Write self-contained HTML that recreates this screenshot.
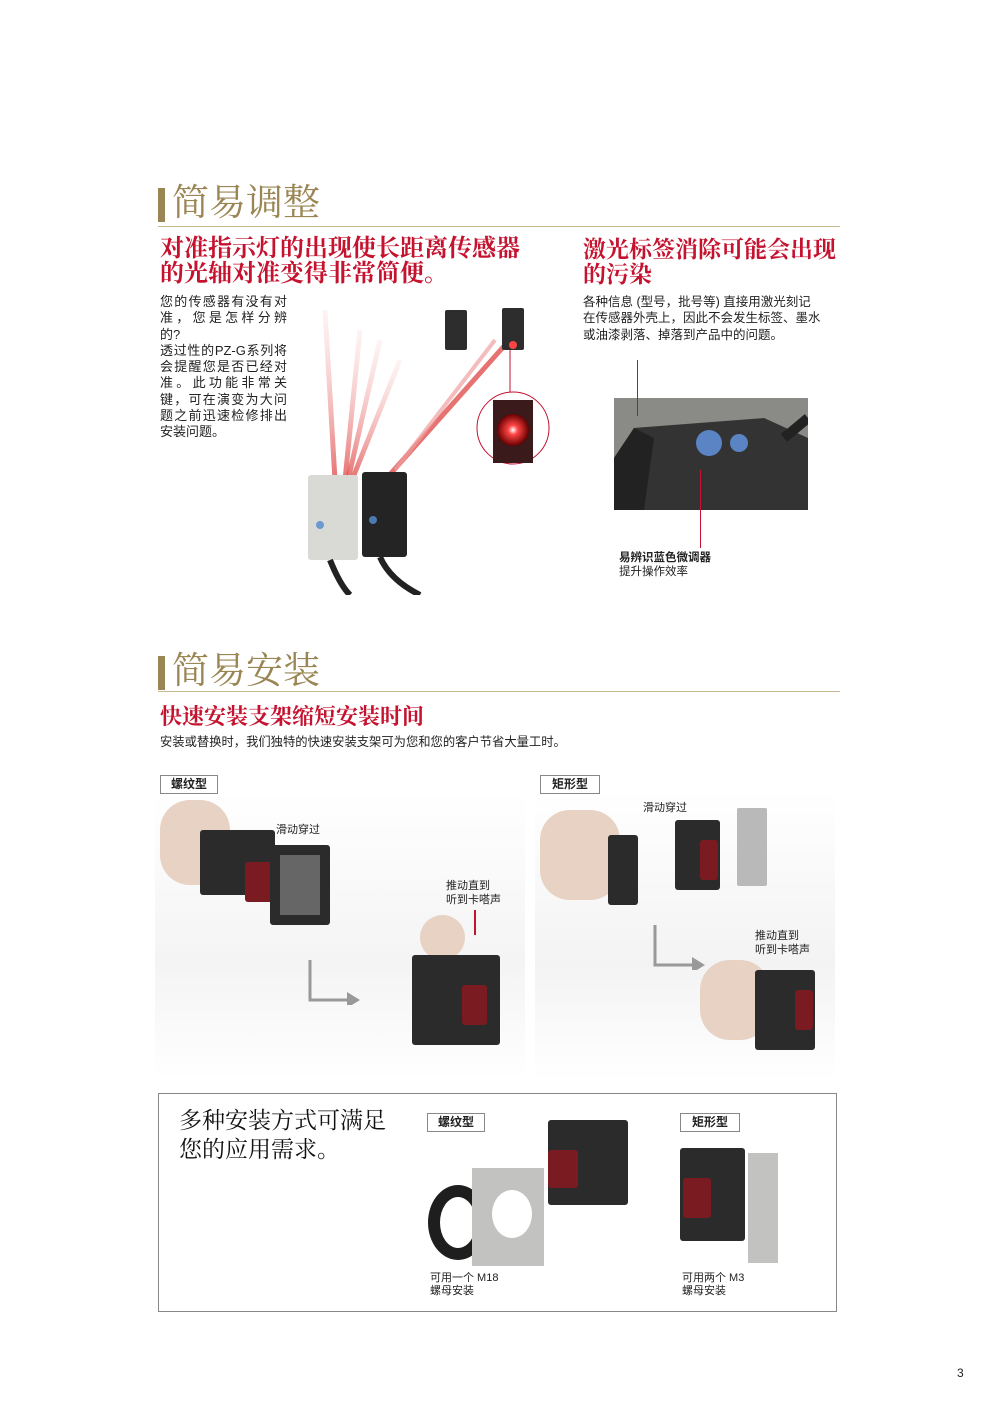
<!DOCTYPE html>
<html><head><meta charset="utf-8"><style>
*{margin:0;padding:0;box-sizing:border-box}
body{width:990px;height:1401px;background:#fff;position:relative;overflow:hidden;font-family:"Liberation Sans","Noto Sans CJK SC",sans-serif;color:#222}
.a{position:absolute}
.h1{font-family:"Liberation Serif","Noto Serif CJK SC",serif;font-size:37px;color:#9a8654;line-height:42px}
.bar{background:#9a8654;width:7px}
.rule{height:1px;background:#c7b98f}
.red{font-family:"Liberation Serif","Noto Serif CJK SC",serif;color:#c4122f;font-size:24px;line-height:25px;font-weight:bold;white-space:nowrap}
.t{font-size:12px;line-height:16.3px;color:#222}
.j div{text-align:justify;text-align-last:justify}
.j div.l{text-align-last:left}
.lbl{border:1px solid #888;font-size:12px;font-weight:bold;padding:1px 0;text-align:center;background:#fff;line-height:15px}
.dark{background:#2b2b2b;border-radius:3px}
.lens{background:#7a1b22;border-radius:3px}
.skin{background:#e8d2c4;border-radius:30px}
</style></head><body>

<div class="a bar" style="left:158px;top:188px;height:34px"></div>
<div class="a h1" style="left:172px;top:183px">简易调整</div>
<div class="a rule" style="left:158px;top:226px;width:682px"></div>

<div class="a red" style="left:160px;top:237px">对准指示灯的出现使长距离传感器<br>的光轴对准变得非常简便。</div>
<div class="a red" style="left:583px;top:237px;font-size:23px">激光标签消除可能会出现<br>的污染</div>

<div class="a t j" style="left:160px;top:294px;width:127px;font-size:13px"><div>您的传感器有没有对</div><div>准，您是怎样分辨</div><div class="l">的?</div><div>透过性的PZ-G系列将</div><div>会提醒您是否已经对</div><div>准。此功能非常关</div><div>键，可在演变为大问</div><div>题之前迅速检修排出</div><div class="l">安装问题。</div></div>
<div class="a t" style="left:583px;top:294px;width:260px;font-size:12.5px">各种信息 (型号，批号等) 直接用激光刻记<br>在传感器外壳上，因此不会发生标签、墨水<br>或油漆剥落、掉落到产品中的问题。</div>

<svg class="a" style="left:290px;top:300px" width="280" height="295">
<defs><linearGradient id="ry" x1="0" y1="0" x2="0" y2="1"><stop offset="0" stop-color="#f6c8c8" stop-opacity=".2"/><stop offset="1" stop-color="#d33" stop-opacity=".7"/></linearGradient>
<radialGradient id="gl"><stop offset="0" stop-color="#fff"/><stop offset=".3" stop-color="#f44"/><stop offset="1" stop-color="#600"/></radialGradient></defs>
<g stroke="url(#ry)" stroke-width="5">
<line x1="35" y1="10" x2="45" y2="180"/><line x1="50" y1="20" x2="50" y2="180"/><line x1="70" y1="30" x2="55" y2="180"/><line x1="90" y1="40" x2="58" y2="180"/><line x1="110" y1="60" x2="62" y2="180"/></g>
<line x1="215" y1="45" x2="95" y2="180" stroke="#e0504f" stroke-width="5" opacity=".8"/>
<line x1="205" y1="40" x2="105" y2="170" stroke="#f0a0a0" stroke-width="4" opacity=".7"/>
<rect x="155" y="10" width="22" height="40" fill="#2d2d2d" rx="2"/>
<rect x="212" y="8" width="22" height="42" fill="#2d2d2d" rx="2"/>
<circle cx="223" cy="45" r="4" fill="#f44"/>
<line x1="220" y1="50" x2="220" y2="95" stroke="#c4122f"/>
<circle cx="223" cy="128" r="36" fill="#fff" stroke="#c4122f"/>
<rect x="203" y="100" width="40" height="63" fill="#3a1a1a"/>
<circle cx="223" cy="130" r="16" fill="url(#gl)"/>
<rect x="18" y="175" width="50" height="85" fill="#d9d9d6" rx="3"/>
<circle cx="30" cy="225" r="4" fill="#6a9ad0"/>
<rect x="72" y="172" width="45" height="85" fill="#242424" rx="3"/>
<circle cx="83" cy="220" r="4" fill="#4a7ab0"/>
<path d="M40 260 Q50 285 60 295 M90 257 Q100 280 130 295" stroke="#222" stroke-width="6" fill="none"/>
</svg>

<div class="a" style="left:614px;top:398px;width:194px;height:112px;background:#8a8a86"></div>
<svg class="a" style="left:614px;top:398px" width="194" height="112">
<polygon points="20,30 150,20 194,40 194,112 0,112 0,60" fill="#333"/>
<polygon points="0,60 20,30 40,40 30,112 0,112" fill="#222"/>
<circle cx="95" cy="45" r="13" fill="#5a84c4"/><circle cx="125" cy="45" r="9" fill="#5a84c4"/>
<path d="M170 40 L194 20" stroke="#222" stroke-width="10"/>
</svg>
<div class="a" style="left:637px;top:360px;width:1px;height:56px;background:#c4122f"></div>
<div class="a" style="left:700px;top:470px;width:1px;height:78px;background:#c4122f"></div>
<div class="a t" style="left:619px;top:551px;font-size:11.5px;line-height:14px"><b>易辨识蓝色微调器</b><br>提升操作效率</div>

<div class="a bar" style="left:158px;top:656px;height:34px"></div>
<div class="a h1" style="left:172px;top:651px">简易安装</div>
<div class="a rule" style="left:158px;top:691px;width:682px"></div>
<div class="a red" style="left:160px;top:704px;font-size:22px">快速安装支架缩短安装时间</div>
<div class="a t" style="left:160px;top:734px;font-size:12.3px">安装或替换时，我们独特的快速安装支架可为您和您的客户节省大量工时。</div>

<div class="a" style="left:155px;top:790px;width:370px;height:290px;background:linear-gradient(#fff,#f4f4f4 60%,#fff)"></div>
<div class="a" style="left:535px;top:790px;width:300px;height:290px;background:linear-gradient(#fff,#f3f3f3 60%,#fff)"></div>
<div class="a lbl" style="left:160px;top:775px;width:58px">螺纹型</div>
<div class="a lbl" style="left:540px;top:775px;width:60px">矩形型</div>

<div class="a skin" style="left:160px;top:800px;width:70px;height:85px"></div>
<div class="a dark" style="left:200px;top:830px;width:75px;height:65px"></div>
<div class="a lens" style="left:245px;top:862px;width:30px;height:40px"></div>
<div class="a dark" style="left:270px;top:845px;width:60px;height:80px;border:10px solid #2b2b2b;background:#666"></div>
<div class="a t" style="left:276px;top:822px;font-size:11px">滑动穿过</div>
<div class="a t" style="left:446px;top:879px;font-size:11px;line-height:14px">推动直到<br>听到卡嗒声</div>
<div class="a" style="left:474px;top:910px;width:2px;height:25px;background:#c4122f"></div>
<div class="a skin" style="left:420px;top:915px;width:45px;height:45px"></div>
<div class="a dark" style="left:412px;top:955px;width:88px;height:90px"></div>
<div class="a lens" style="left:462px;top:985px;width:25px;height:40px"></div>
<svg class="a" style="left:305px;top:960px" width="60" height="45"><path d="M5 0 V40 H45" stroke="#999" stroke-width="3" fill="none"/><polygon points="42,32 55,40 42,48" fill="#999"/></svg>
<svg class="a" style="left:650px;top:925px" width="60" height="45"><path d="M5 0 V40 H45" stroke="#999" stroke-width="3" fill="none"/><polygon points="42,32 55,40 42,48" fill="#999"/></svg>

<div class="a skin" style="left:540px;top:810px;width:80px;height:90px"></div>
<div class="a dark" style="left:608px;top:835px;width:30px;height:70px"></div>
<div class="a dark" style="left:675px;top:820px;width:45px;height:70px"></div>
<div class="a lens" style="left:700px;top:840px;width:18px;height:40px"></div>
<div class="a" style="left:737px;top:808px;width:30px;height:78px;background:#b9b9b9;border-radius:2px"></div>
<div class="a t" style="left:643px;top:800px;font-size:11px">滑动穿过</div>
<div class="a t" style="left:755px;top:929px;font-size:11px;line-height:14px">推动直到<br>听到卡嗒声</div>
<div class="a skin" style="left:700px;top:960px;width:70px;height:80px"></div>
<div class="a dark" style="left:755px;top:970px;width:60px;height:80px"></div>
<div class="a lens" style="left:795px;top:990px;width:18px;height:40px"></div>

<div class="a" style="left:158px;top:1093px;width:679px;height:219px;border:1px solid #888"></div>
<div class="a" style="left:179px;top:1106px;font-family:'Liberation Serif','Noto Serif CJK SC',serif;font-size:23px;line-height:29px;color:#111">多种安装方式可满足<br>您的应用需求。</div>
<div class="a lbl" style="left:427px;top:1113px;width:58px">螺纹型</div>
<div class="a lbl" style="left:680px;top:1113px;width:60px">矩形型</div>
<div class="a" style="left:428px;top:1185px;width:60px;height:75px;border:12px solid #1e1e1e;border-radius:50%"></div>
<div class="a" style="left:472px;top:1168px;width:72px;height:98px;background:#c2c2c0"></div>
<div class="a" style="left:492px;top:1190px;width:40px;height:48px;background:#fff;border-radius:50%"></div>
<div class="a dark" style="left:548px;top:1120px;width:80px;height:85px"></div>
<div class="a lens" style="left:548px;top:1150px;width:30px;height:38px"></div>
<div class="a dark" style="left:680px;top:1148px;width:65px;height:93px"></div>
<div class="a lens" style="left:683px;top:1178px;width:28px;height:40px"></div>
<div class="a" style="left:748px;top:1153px;width:30px;height:110px;background:#c2c2c0"></div>
<div class="a t" style="left:430px;top:1272px;font-size:11px;line-height:13px">可用一个 M18<br>螺母安装</div>
<div class="a t" style="left:682px;top:1272px;font-size:11px;line-height:13px">可用两个 M3<br>螺母安装</div>

<div class="a t" style="left:957px;top:1365px;font-size:12px">3</div>
</body></html>
